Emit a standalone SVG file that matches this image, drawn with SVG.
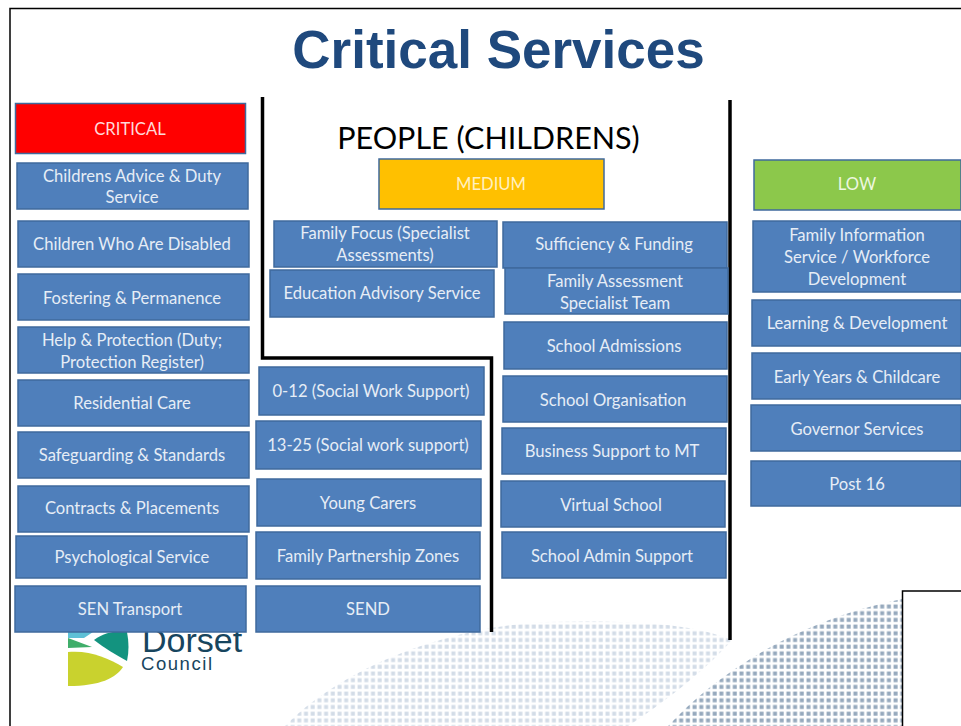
<svg xmlns="http://www.w3.org/2000/svg" width="961" height="726" viewBox="0 0 961 726">
<style>
.b{fill:#4f7fbb;stroke:#3f6a9d;stroke-width:1.5}
.t{font-family:Lato,"Open Sans",sans-serif;font-size:16.6px;fill:#e6edf6;text-anchor:middle;transform:translateY(1px)}
.l{fill:none;stroke:#000;stroke-width:3.5}
.g{font-family:"Liberation Sans",Arial,sans-serif;fill:#17455e}
</style>
<defs>
<pattern id="d1" width="6.7" height="6.7" patternUnits="userSpaceOnUse" x="1" y="0"><rect x="1.500" y="1.500" width="4" height="4" fill="#d3dce7"/></pattern>
<pattern id="d2" width="6.7" height="6.7" patternUnits="userSpaceOnUse" x="1" y="0"><rect x="1.500" y="1.500" width="4" height="4" fill="#96a9bd"/></pattern>
</defs>
<rect width="961" height="726" fill="#fff"/>
<g id="background">
<path d="M285 726C340 670 440 628 545 622C620 620 690 622 732 640C710 665 675 695 628 726Z" fill="url(#d1)"/>
<path d="M668 726C720 670 800 620 902 599V726Z" fill="url(#d2)"/>
</g>
<path d="M10 726V8.500H961" fill="none" stroke="#000" stroke-width="1.500"/>
<text x="498.500" y="68" font-family="Liberation Sans,Arial,sans-serif" font-size="53" font-weight="700" fill="#1f497d" text-anchor="middle">Critical Services</text>
<text x="488.500" y="149" font-family="Lato,sans-serif" font-size="30.500" fill="#000" text-anchor="middle">PEOPLE (CHILDRENS)</text>
<g id="connectors">
<path class="l" d="M262.500 97V358H491.500V632"/>
<path class="l" d="M730 100V640"/>
</g>
<g id="logo">
<path d="M68 632H93L84 638H68Z" fill="#19a5c4" opacity="0.7"/>
<path d="M94 640C105 632 118 630 127 632C129 642 129 652 127 661C116 655 104 648 94 640Z" fill="#13937f"/>
<path d="M68 638L92 647L68 648Z" fill="#3fae6a"/>
<path d="M68 652C90 650 108 658 123 667C116 678 100 686 68 686Z" fill="#c9d22e"/>
<text class="g" x="142" y="652" font-size="34">Dorset</text>
<text class="g" x="141" y="670" font-size="18.500" textLength="71">Council</text>
</g>
<g id="critical"><rect x="15.500" y="103.500" width="230" height="50" fill="#f00" stroke="#3f6a9d" stroke-width="1.500"/><text class="t" x="130" y="134" style="fill:#ffd9d9">CRITICAL</text></g>
<g id="medium"><rect x="379" y="159" width="225" height="50" fill="#ffc000" stroke="#3f6a9d" stroke-width="1.500"/><text class="t" x="491" y="189" style="fill:#fff0c0">MEDIUM</text></g>
<g id="low"><rect x="754" y="160" width="207" height="50" fill="#8cc84b" stroke="#3f6a9d" stroke-width="1.500"/><text class="t" x="857" y="189" style="fill:#eef7e0">LOW</text></g>

<g id="n1"><rect class="b" x="17" y="163" width="231" height="46"/><text class="t" x="132" y="181">Childrens Advice &amp; Duty</text><text class="t" x="132" y="202">Service</text></g>
<g id="n2"><rect class="b" x="18" y="221" width="231" height="46"/><text class="t" x="132" y="249">Children Who Are Disabled</text></g>
<g id="n3"><rect class="b" x="18" y="274" width="231" height="46"/><text class="t" x="132" y="303">Fostering &amp; Permanence</text></g>
<g id="n4"><rect class="b" x="18" y="327" width="231" height="46"/><text class="t" x="132" y="345">Help &amp; Protection (Duty;</text><text class="t" x="132" y="367">Protection Register)</text></g>
<g id="n5"><rect class="b" x="18" y="380" width="231" height="46"/><text class="t" x="132" y="408">Residential Care</text></g>
<g id="n6"><rect class="b" x="18" y="432" width="231" height="46"/><text class="t" x="132" y="460">Safeguarding &amp; Standards</text></g>
<g id="n7"><rect class="b" x="18" y="486" width="231" height="46"/><text class="t" x="132" y="513">Contracts &amp; Placements</text></g>
<g id="n8"><rect class="b" x="16" y="536" width="231" height="42"/><text class="t" x="132" y="562">Psychological Service</text></g>
<g id="n9"><rect class="b" x="15" y="586" width="231" height="46"/><text class="t" x="130" y="614">SEN Transport</text></g>

<g id="n10"><rect class="b" x="274" y="221" width="223" height="46"/><text class="t" x="385" y="238">Family Focus (Specialist</text><text class="t" x="385" y="260">Assessments)</text></g>
<g id="n11"><rect class="b" x="270" y="270" width="224" height="47"/><text class="t" x="382" y="298">Education Advisory Service</text></g>
<g id="n12"><rect class="b" x="259" y="367" width="225" height="48"/><text class="t" x="371" y="396">0-12 (Social Work Support)</text></g>
<g id="n13"><rect class="b" x="256" y="421" width="225" height="48"/><text class="t" x="368" y="450">13-25 (Social work support)</text></g>
<g id="n14"><rect class="b" x="257" y="479" width="224" height="47"/><text class="t" x="368" y="508">Young Carers</text></g>
<g id="n15"><rect class="b" x="256" y="532" width="224" height="47"/><text class="t" x="368" y="561">Family Partnership Zones</text></g>
<g id="n16"><rect class="b" x="256" y="586" width="224" height="46"/><text class="t" x="368" y="614">SEND</text></g>

<g id="n17"><rect class="b" x="503" y="222" width="224" height="46"/><text class="t" x="614" y="249">Sufficiency &amp; Funding</text></g>
<g id="n18"><rect class="b" x="505" y="268" width="223" height="46"/><text class="t" x="615" y="286">Family Assessment</text><text class="t" x="615" y="308">Specialist Team</text></g>
<g id="n19"><rect class="b" x="504" y="322" width="223" height="47"/><text class="t" x="614" y="351">School Admissions</text></g>
<g id="n20"><rect class="b" x="503" y="376" width="224" height="46"/><text class="t" x="613" y="405">School Organisation</text></g>
<g id="n21"><rect class="b" x="502" y="428" width="224" height="46"/><text class="t" x="612" y="456">Business Support to MT</text></g>
<g id="n22"><rect class="b" x="501" y="481" width="224" height="46"/><text class="t" x="611" y="510">Virtual School</text></g>
<g id="n23"><rect class="b" x="502" y="532" width="224" height="46"/><text class="t" x="612" y="561">School Admin Support</text></g>

<g id="n24"><rect class="b" x="753" y="221" width="208" height="71"/><text class="t" x="857" y="240">Family Information</text><text class="t" x="857" y="262">Service / Workforce</text><text class="t" x="857" y="284">Development</text></g>
<g id="n25"><rect class="b" x="752" y="300" width="209" height="46"/><text class="t" x="857" y="328">Learning &amp; Development</text></g>
<g id="n26"><rect class="b" x="752" y="353" width="209" height="46"/><text class="t" x="857" y="382">Early Years &amp; Childcare</text></g>
<g id="n27"><rect class="b" x="751" y="405" width="210" height="46"/><text class="t" x="857" y="434">Governor Services</text></g>
<g id="n28"><rect class="b" x="751" y="461" width="210" height="45"/><text class="t" x="857" y="489">Post 16</text></g>
<rect x="902.500" y="591" width="60" height="140" fill="#fff" stroke="#000" stroke-width="1.500"/>
</svg>
